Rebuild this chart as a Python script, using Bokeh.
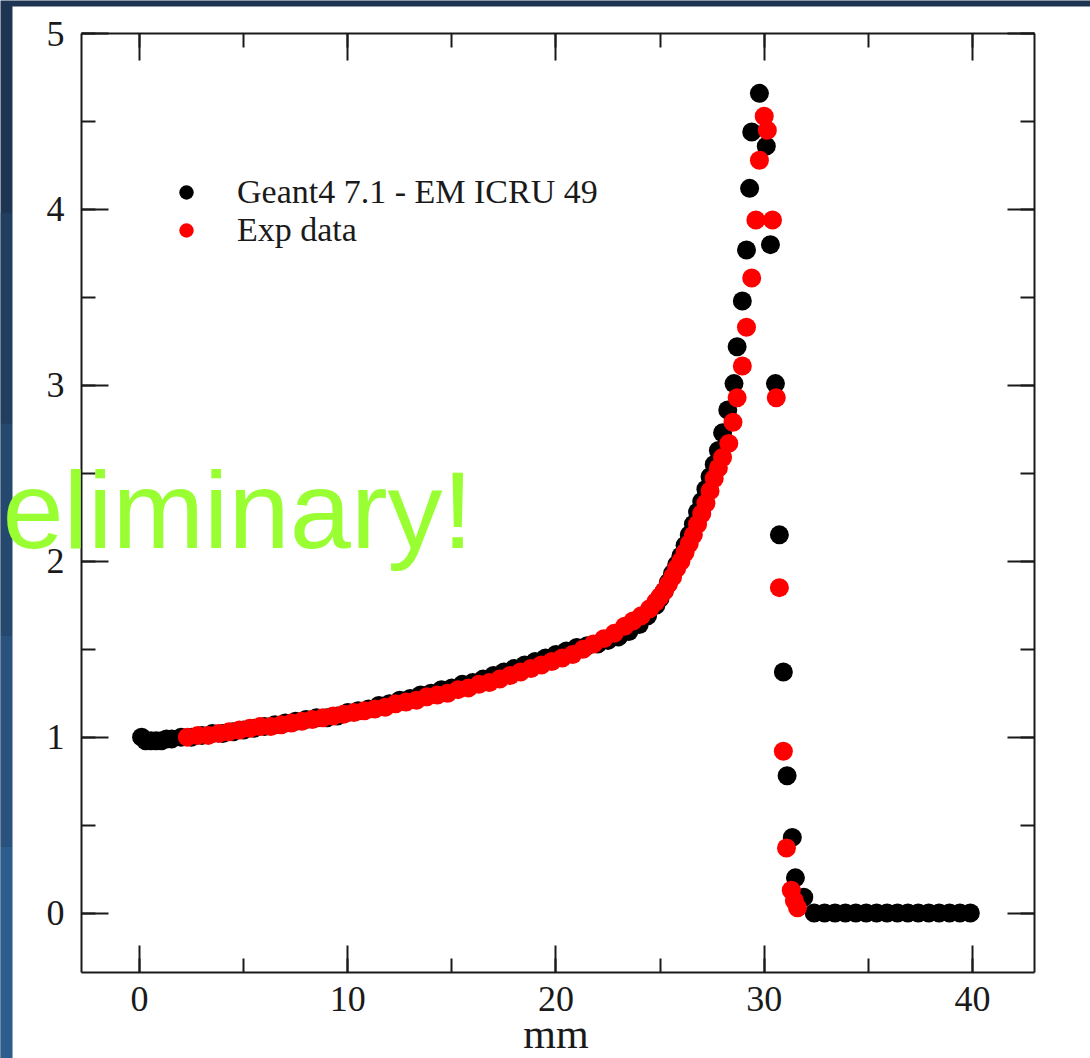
from bokeh.plotting import figure
from bokeh.models import (Range1d, LinearAxis, SingleIntervalTicker, Legend, LegendItem,
                          Label, CustomJSTickFormatter, ColumnDataSource, BoxAnnotation)
from bokeh.embed import file_html
from bokeh.resources import INLINE

# ---------------- data ----------------
geant4_x = [0.1, 0.3, 0.55, 0.8, 1.05, 1.3, 1.55, 2.0, 2.5, 3.0, 3.5, 4.0, 4.5, 5.0, 5.5,
            6.0, 6.5, 7.0, 7.5, 8.0, 8.5, 9.0, 9.5, 10.0, 10.5, 11.0, 11.5, 12.0, 12.5,
            13.0, 13.5, 14.0, 14.5, 15.0, 15.5, 16.0, 16.5, 17.0, 17.5, 18.0, 18.5, 19.0,
            19.5, 20.0, 20.5, 21.0, 21.5, 22.0, 22.5, 23.0, 23.5, 24.0, 24.4, 24.8, 25.0,
            25.2, 25.4, 25.6, 25.8, 26.0, 26.2, 26.4, 26.6, 26.8, 27.0, 27.2, 27.4, 27.6,
            27.8, 28.0, 28.25, 28.55, 28.7, 28.95, 29.15, 29.3, 29.4, 29.77, 30.1, 30.3,
            30.54, 30.73, 30.92, 31.1, 31.35, 31.5, 31.9,
            32.4, 32.9, 33.4, 33.9, 34.4, 34.9, 35.4, 35.9, 36.4, 36.9, 37.4, 37.9, 38.4,
            38.9, 39.4, 39.9]
geant4_y = [1.00, 0.98, 0.98, 0.98, 0.98, 0.99, 0.99, 1.00, 1.00, 1.01, 1.02, 1.02, 1.03,
            1.04, 1.05, 1.06, 1.07, 1.08, 1.09, 1.10, 1.11, 1.11, 1.12, 1.14, 1.15, 1.16,
            1.18, 1.19, 1.21, 1.22, 1.24, 1.25, 1.27, 1.28, 1.30, 1.31, 1.33, 1.35, 1.37,
            1.39, 1.41, 1.43, 1.45, 1.47, 1.49, 1.51, 1.52, 1.53, 1.55, 1.57, 1.60, 1.64,
            1.69, 1.75, 1.79, 1.83, 1.88, 1.93, 1.98, 2.03, 2.09, 2.15, 2.21, 2.28, 2.34,
            2.41, 2.48, 2.55, 2.63, 2.73, 2.86, 3.01, 3.22, 3.48, 3.77, 4.12, 4.44, 4.66,
            4.36, 3.80, 3.01, 2.15, 1.37, 0.78, 0.43, 0.20, 0.09,
            0.0, 0.0, 0.0, 0.0, 0.0, 0.0, 0.0, 0.0, 0.0, 0.0, 0.0, 0.0, 0.0, 0.0, 0.0, 0.0]

exp_x = [2.3, 2.8, 3.3, 3.8, 4.3, 4.8, 5.3, 5.8, 6.3, 6.8, 7.3, 7.8, 8.3, 8.8, 9.3, 9.8,
         10.3, 10.8, 11.3, 11.8, 12.3, 12.8, 13.3, 13.8, 14.3, 14.8, 15.3, 15.8, 16.3, 16.8,
         17.3, 17.8, 18.3, 18.8, 19.3, 19.8, 20.3, 20.8, 21.3, 21.8, 22.3, 22.8, 23.3, 23.7,
         24.1, 24.5, 24.8, 25.0, 25.2, 25.4, 25.6, 25.8, 26.0, 26.2, 26.4, 26.6, 26.8, 27.0,
         27.2, 27.4, 27.6, 27.8, 28.0, 28.3, 28.5, 28.7, 28.95, 29.15, 29.4, 29.6, 29.77,
         30.0, 30.15, 30.4, 30.58, 30.73, 30.92, 31.07, 31.3, 31.45, 31.6]
exp_y = [1.00, 1.01, 1.01, 1.02, 1.03, 1.04, 1.05, 1.06, 1.06, 1.07, 1.08, 1.09, 1.10, 1.11,
         1.12, 1.13, 1.14, 1.15, 1.16, 1.17, 1.19, 1.20, 1.21, 1.23, 1.24, 1.25, 1.27, 1.28,
         1.30, 1.31, 1.33, 1.35, 1.37, 1.39, 1.41, 1.43, 1.45, 1.47, 1.50, 1.53, 1.56, 1.59,
         1.63, 1.66, 1.69, 1.73, 1.77, 1.80, 1.83, 1.87, 1.91, 1.96, 2.00, 2.05, 2.10, 2.15,
         2.21, 2.27, 2.33, 2.40, 2.47, 2.53, 2.59, 2.67, 2.79, 2.93, 3.11, 3.33, 3.61, 3.94,
         4.28, 4.53, 4.45, 3.94, 2.93, 1.85, 0.92, 0.37, 0.13, 0.07, 0.03]

series_labels = ["Geant4 7.1 - EM ICRU 49", "Exp data"]
x_axis_label = "mm"
watermark = "eliminary!"

# axis box of the graph (data units)
X_LO, X_HI = -2.78, 43.0
Y_LO, Y_HI = -0.34, 5.0

# ---------------- figure ----------------
W, H = 1090, 1058
p = figure(width=W, height=H,
           x_range=Range1d(-6.675, 45.67), y_range=Range1d(-0.827, 5.188),
           output_backend="svg", toolbar_location=None,
           x_axis_type=None, y_axis_type=None,
           min_border_left=0, min_border_right=0, min_border_top=0, min_border_bottom=0)
p.outline_line_color = None
p.background_fill_color = "#1d3452"
p.border_fill_color = "#1d3452"

# slide background: left strip gets lighter towards the bottom
strip_bands = [(3.982, 2.783, "#213d60"), (2.783, 1.578, "#25486f"),
               (1.578, 0.378, "#29527f"), (0.378, None, "#2d5c8f")]
for top, bottom, col in strip_bands:
    kw = dict(right=-6.10, top=top, fill_color=col, fill_alpha=1.0, line_alpha=0,
              level="underlay")
    if bottom is not None:
        kw["bottom"] = bottom
    p.add_layout(BoxAnnotation(**kw))

# white "paper" of the slide graphic
p.add_layout(BoxAnnotation(left=-6.10, top=5.154, fill_color="white", fill_alpha=1.0,
                           line_alpha=0, level="underlay"))

SERIF = "Liberation Serif"
INK = "#1a1a1a"


def style_axis(ax, interval, loc, bounds, show_labels):
    ax.fixed_location = loc
    ax.bounds = bounds
    ax.ticker = SingleIntervalTicker(interval=interval, num_minor_ticks=2)
    ax.axis_line_width = 2
    ax.axis_line_color = INK
    ax.major_tick_line_width = 2
    ax.major_tick_line_color = INK
    ax.minor_tick_line_width = 2
    ax.minor_tick_line_color = INK
    ax.major_tick_in = 27
    ax.major_tick_out = 0
    ax.minor_tick_in = 14
    ax.minor_tick_out = 0
    if show_labels:
        ax.major_label_text_font = SERIF
        ax.major_label_text_font_size = "36px"
        ax.major_label_text_color = INK
    else:
        ax.formatter = CustomJSTickFormatter(code="return ''")
        ax.major_label_standoff = 0


xb = LinearAxis()
style_axis(xb, 10, Y_LO, (X_LO, X_HI), True)
xb.major_label_standoff = 14
p.add_layout(xb, "below")

yl = LinearAxis()
style_axis(yl, 1, X_LO, (Y_LO, Y_HI), True)
yl.major_label_standoff = 17
p.add_layout(yl, "left")

xt = LinearAxis()
style_axis(xt, 10, Y_HI, (X_LO, X_HI), False)
p.add_layout(xt, "above")

yr = LinearAxis()
style_axis(yr, 1, X_HI, (Y_LO, Y_HI), False)
p.add_layout(yr, "right")

src_g = ColumnDataSource(dict(x=geant4_x, y=geant4_y))
src_e = ColumnDataSource(dict(x=exp_x, y=exp_y))
rg = p.scatter("x", "y", source=src_g, size=19, marker="circle",
               fill_color="#000000", line_color="#000000", line_width=0)
re = p.scatter("x", "y", source=src_e, size=19, marker="circle",
               fill_color="#ff0000", line_color="#ff0000", line_width=0)

legend = Legend(items=[LegendItem(label=series_labels[0], renderers=[rg]),
                       LegendItem(label=series_labels[1], renderers=[re])],
                location=(168, 809), glyph_width=36, glyph_height=36, label_height=36,
                label_standoff=33, spacing=0, padding=0, margin=0,
                label_text_font=SERIF, label_text_font_size="34px",
                label_text_color=INK,
                border_line_color=None, background_fill_alpha=0)
p.add_layout(legend)

p.add_layout(Label(x=20, y=-0.685, text=x_axis_label,
                   text_font=SERIF, text_font_size="42px", text_color=INK,
                   text_align="center", text_baseline="middle"))

p.add_layout(Label(x=16.02, y=2.294, text=watermark,
                   text_font="Liberation Sans", text_font_size="110px",
                   text_color="#99ff33", text_align="right", text_baseline="middle"))

open("out.html", "w").write(file_html(p, INLINE))
